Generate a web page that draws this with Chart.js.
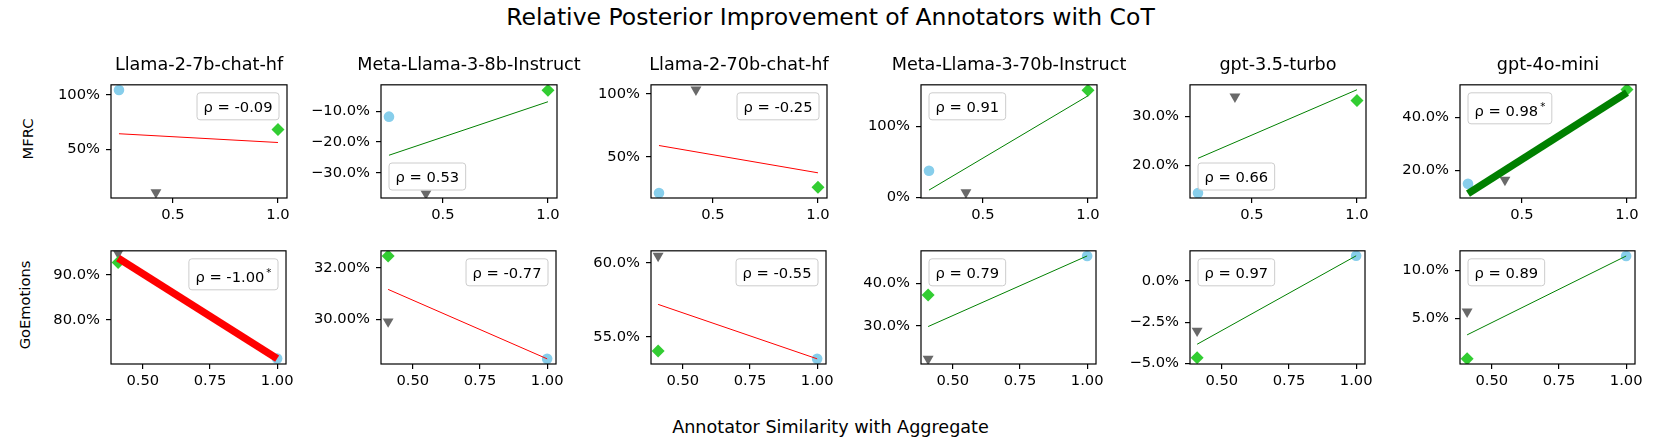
<!DOCTYPE html>
<html>
<head>
<meta charset="utf-8">
<script src="https://cdn.jsdelivr.net/npm/chart.js@4.4.1/dist/chart.umd.min.js"></script>
<style>
  body { margin: 0; background: #fff; }
  #fig { position: relative; width: 1661px; height: 443px; overflow: hidden; font-family: "DejaVu Sans", sans-serif; color: #000; }
  .txt { position: absolute; white-space: nowrap; line-height: 1; }
  .cell { position: absolute; }
</style>
</head>
<body>
<div id="fig"></div>
<script>
// subplot titles and row names
const models = ['Llama-2-7b-chat-hf', 'Meta-Llama-3-8b-Instruct', 'Llama-2-70b-chat-hf',
                'Meta-Llama-3-70b-Instruct', 'gpt-3.5-turbo', 'gpt-4o-mini'];
const rowNames = ['MFRC', 'GoEmotions'];

// annotator similarity with aggregate (x) for circle, triangle, diamond annotator
const mfrcSim = [0.243, 0.419, 1.0];
const goSim = [1.0, 0.408, 0.408];

// relative posterior improvement (%) per model
const mfrcCircle   = [104.4, -11.75, 21.2, 37.3, 14.4, 14.8];
const mfrcTriangle = [10.9, -36.75, 103.3, 6.8, 34.1, 16.3];
const mfrcDiamond  = [68.3, -3.2, 25.8, 150.8, 33.3, 50.7];
const goCircle     = [71.5, 28.46, 53.5, 46.4, 1.5, 11.5];
const goTriangle   = [94.8, 29.91, 60.47, 22.2, -3.02, 5.7];
const goDiamond    = [92.7, 32.46, 54.03, 37.2, -4.64, 0.77];

// fitted line, value at lowest and highest similarity
const mfrcFitStart = [64.5, -24.3, 58.9, 10.1, 21.5, 11.1];
const mfrcFitEnd   = [56.5, -6.9, 37.2, 143.0, 35.5, 49.5];
const goFitStart   = [93.7, 31.16, 57.19, 29.8, -3.83, 3.27];
const goFitEnd     = [71.5, 28.46, 53.5, 46.4, 1.5, 11.5];

// spearman rho and significance
const mfrcRho  = ['-0.09', '0.53', '-0.25', '0.91', '0.66', '0.98'];
const mfrcSig  = [false, false, false, false, false, true];
const goRho    = ['-1.00', '-0.77', '-0.55', '0.79', '0.97', '0.89'];
const goSig    = [true, false, false, false, false, false];

// axis ticks and limits
const mfrcXTicks = [0.5, 1.0];
const goXTicks = [0.5, 0.75, 1.0];
const mfrcYTicks = [[50, 100], [-30, -20, -10], [50, 100], [0, 100], [20, 30], [20, 40]];
const goYTicks   = [[80, 90], [30, 32], [55, 60], [30, 40], [-5, -2.5, 0], [5, 10]];
const mfrcYDec = [0, 1, 0, 0, 1, 1];
const goYDec   = [1, 2, 1, 1, 1, 1];
const mfrcYLim = [[5.8, 109.2], [-38.2, -1.4], [17.2, 107.1], [-1.0, 158.5], [13.4, 36.5], [9.4, 52.5]];
const goYLim   = [[70.3, 95.3], [28.26, 32.66], [53.15, 60.82], [21.0, 47.6], [-5.02, 1.8], [0.23, 12.04]];
const mfrcXLim = [0.205, 1.043];
const goXLim = [0.3815, 1.033];

// layout
const AX_LEFT = [111, 381, 651, 921, 1190, 1460];
const ROW_TOP = [80, 246];
const AX_W = 176, AX_H = 118;
const PAD_L = 70, PAD_T = 10, PAD_R = 10, PAD_B = 30;
const mfrcCorner = ['tr', 'bl', 'tr', 'tl', 'bl', 'tl'];
const goCorner = ['tr', 'tr', 'tr', 'tl', 'tl', 'tl'];

Chart.defaults.font.family = '"DejaVu Sans", sans-serif';
Chart.defaults.font.size = 14.7;
Chart.defaults.color = '#000';

const fig = document.getElementById('fig');

function addText(str, size, cx, baseline, rotate) {
  const d = document.createElement('div');
  d.className = 'txt';
  d.textContent = str;
  d.style.fontSize = size + 'px';
  if (rotate) {
    d.style.left = cx + 'px';
    d.style.top = baseline + 'px';
    d.style.transform = 'translate(-50%,-50%) rotate(-90deg)';
  } else {
    d.style.left = cx + 'px';
    d.style.top = (baseline - 0.846 * size) + 'px';
    d.style.transform = 'translateX(-50%)';
  }
  fig.appendChild(d);
}

const fmtPct = (v, d) => (v < 0 ? '\u2212' : '') + Math.abs(v).toFixed(d) + '%';

const framePlugin = {
  id: 'frame',
  afterDatasetsDraw(chart, args, o) {
    const ctx = chart.ctx, a = chart.chartArea;
    ctx.save();
    ctx.lineWidth = 1.2;
    ctx.strokeStyle = '#000';
    ctx.strokeRect(a.left, a.top, a.right - a.left, a.bottom - a.top);
    const txt = '\u03c1 = ' + o.rho;
    ctx.font = '14.7px "DejaVu Sans"';
    const tw = ctx.measureText(txt).width;
    let sw = 0;
    if (o.star) {
      ctx.font = '10.3px "DejaVu Sans"';
      sw = ctx.measureText('*').width + 2;
    }
    const bw = tw + sw + 13, bh = o.star ? 31 : 27, inset = 8;
    const bx = o.corner[1] === 'l' ? a.left + inset : a.right - inset - bw;
    const by = o.corner[0] === 't' ? a.top + inset : a.bottom - inset - bh;
    ctx.beginPath();
    ctx.roundRect(bx, by, bw, bh, 3);
    ctx.fillStyle = 'rgba(255,255,255,0.8)';
    ctx.fill();
    ctx.strokeStyle = '#cccccc';
    ctx.lineWidth = 1;
    ctx.stroke();
    ctx.fillStyle = '#000';
    ctx.textAlign = 'left';
    ctx.textBaseline = 'alphabetic';
    ctx.font = '14.7px "DejaVu Sans"';
    ctx.fillText(txt, bx + 6.5, by + bh - 8.3);
    if (o.star) {
      ctx.font = '10.3px "DejaVu Sans"';
      ctx.fillText('*', bx + 6.5 + tw + 2, by + bh - 14);
    }
    ctx.restore();
  }
};

function makeCell(row, col) {
  const top = row === 0;
  const sim = top ? mfrcSim : goSim;
  const circ = (top ? mfrcCircle : goCircle)[col];
  const tri = (top ? mfrcTriangle : goTriangle)[col];
  const dia = (top ? mfrcDiamond : goDiamond)[col];
  const f0 = (top ? mfrcFitStart : goFitStart)[col];
  const f1 = (top ? mfrcFitEnd : goFitEnd)[col];
  const rho = (top ? mfrcRho : goRho)[col];
  const sig = (top ? mfrcSig : goSig)[col];
  const yt = (top ? mfrcYTicks : goYTicks)[col];
  const yd = (top ? mfrcYDec : goYDec)[col];
  const yl = (top ? mfrcYLim : goYLim)[col];
  const xt = top ? mfrcXTicks : goXTicks;
  const xl = top ? mfrcXLim : goXLim;
  const xd = top ? 1 : 2;
  const corner = (top ? mfrcCorner : goCorner)[col];

  const w = PAD_L + AX_W + PAD_R, h = PAD_T + AX_H + PAD_B;
  const div = document.createElement('div');
  div.className = 'cell';
  div.style.left = (AX_LEFT[col] - PAD_L) + 'px';
  div.style.top = (ROW_TOP[row] - PAD_T) + 'px';
  div.style.width = w + 'px';
  div.style.height = h + 'px';
  const cv = document.createElement('canvas');
  cv.width = w; cv.height = h;
  cv.style.width = w + 'px'; cv.style.height = h + 'px';
  div.appendChild(cv);
  fig.appendChild(div);

  const xMin = Math.min(...sim), xMax = Math.max(...sim);
  const gridOpts = { drawOnChartArea: false, drawTicks: true, tickLength: 5, color: '#000', lineWidth: 1.2 };

  new Chart(cv, {
    type: 'scatter',
    data: {
      datasets: [
        { data: [{ x: xMin, y: f0 }, { x: xMax, y: f1 }], showLine: true, pointRadius: 0,
          borderColor: rho.startsWith('-') ? '#ff0000' : '#008000', borderWidth: sig ? 7.35 : 1, clip: 0 },
        { data: [{ x: sim[2], y: dia }], pointStyle: 'rectRot', pointRadius: 6.5, backgroundColor: '#32cd32', borderWidth: 0, clip: 0 },
        { data: [{ x: sim[1], y: tri }], pointStyle: 'triangle', rotation: 180, pointRadius: 6.3, backgroundColor: '#696969', borderWidth: 0, clip: 0 },
        { data: [{ x: sim[0], y: circ }], pointStyle: 'circle', pointRadius: 5.3, backgroundColor: '#87ceeb', borderWidth: 0, clip: 0 }
      ]
    },
    options: {
      responsive: false,
      animation: false,
      events: [],
      layout: { padding: { left: 0, right: PAD_R, top: PAD_T, bottom: 0 } },
      plugins: {
        legend: { display: false },
        tooltip: { enabled: false },
        frame: { rho, star: sig, corner }
      },
      scales: {
        x: {
          type: 'linear', min: xl[0], max: xl[1],
          afterFit: s => { s.height = PAD_B; },
          afterBuildTicks: s => { s.ticks = xt.map(v => ({ value: v })); },
          ticks: { callback: v => v.toFixed(xd), padding: 3, maxRotation: 0, autoSkip: false },
          grid: gridOpts,
          border: { display: false }
        },
        y: {
          type: 'linear', min: yl[0], max: yl[1],
          afterFit: s => { s.width = PAD_L; },
          afterBuildTicks: s => { s.ticks = yt.map(v => ({ value: v })); },
          ticks: { callback: v => fmtPct(v, yd), padding: 6, autoSkip: false },
          grid: gridOpts,
          border: { display: false }
        }
      }
    },
    plugins: [framePlugin]
  });

  if (top) addText(models[col], 17.6, AX_LEFT[col] + AX_W / 2, ROW_TOP[row] - 9);
}

for (let r = 0; r < 2; r++) {
  for (let c = 0; c < 6; c++) makeCell(r, c);
}

addText('Relative Posterior Improvement of Annotators with CoT', 23.5, 830.5, 26);
addText('Annotator Similarity with Aggregate', 17.6, 830.5, 434);
addText(rowNames[0], 14.7, 27.5, ROW_TOP[0] + AX_H / 2, true);
addText(rowNames[1], 14.7, 25, ROW_TOP[1] + AX_H / 2, true);
</script>
</body>
</html>
